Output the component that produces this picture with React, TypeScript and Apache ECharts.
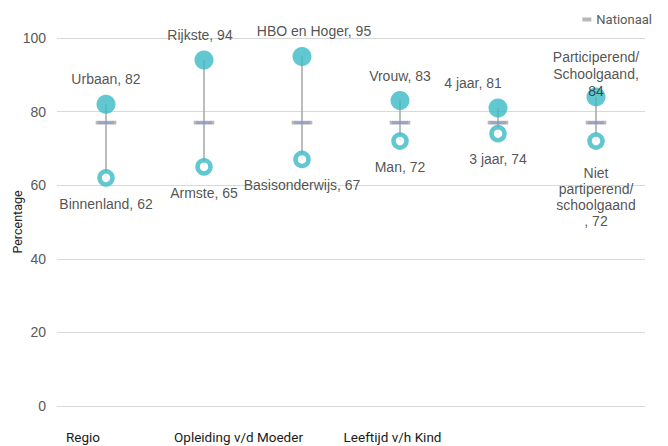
import React, { useEffect, useRef } from "react";
import * as echarts from "echarts";

const categories = ["Regio", "Welvaart", "Opleiding v/d Moeder", "Geslacht", "Leeftijd v/h Kind", "Participatie"];
const highNames = ["Urbaan", "Rijkste", "HBO en Hoger", "Vrouw", "4 jaar", "Participerend/\nSchoolgaand"];
const highValues = [82, 94, 95, 83, 81, 84];
const lowNames = ["Binnenland", "Armste", "Basisonderwijs", "Man", "3 jaar", "Niet\npartiperend/\nschoolgaand\n"];
const lowValues = [62, 65, 67, 72, 74, 72];
const nationalValues = [77, 77, 77, 77, 77, 77];
const yTicks = [0, 20, 40, 60, 80, 100];

const TEAL = "#3ab9c5";
const FONT = "'Liberation Sans', Arial, sans-serif";
const NARROW = "Roboto, 'Liberation Sans', sans-serif";

export default function App() {
  const ref = useRef<HTMLDivElement>(null);
  useEffect(() => {
    if (!ref.current) return;
    const chart = echarts.init(ref.current, null, { renderer: "svg" });
    const catPad: Record<number, number> = { 0: 46, 2: 127, 4: 211 };
    const highOffset: Record<number, number[]> = { 1: [-4, 0], 2: [12, 0], 4: [-25, 0], 5: [0, 19] };
    const lowOffset: Record<number, number[]> = { 5: [0, 6] };
    const option: any = {
      animation: false,
      backgroundColor: "#ffffff",
      grid: { left: 57, right: 23, top: 38, bottom: 40, containLabel: false, outerBoundsMode: "none" },
      legend: {
        data: [{ name: "Nationaal", itemStyle: { color: "#a6a6a6", borderWidth: 0 } }],
        right: 11,
        top: 8,
        icon: "rect",
        itemWidth: 9,
        itemHeight: 4,
        itemGap: 3,
        textStyle: { color: "#595959", fontSize: 13, fontFamily: NARROW },
      },
      xAxis: {
        type: "category",
        data: categories.map((c, i) => ({
          value: c,
          textStyle: { padding: [0, catPad[i] || 0, 0, 0] },
        })),
        axisLine: { show: true, lineStyle: { color: "#d9d9d9", width: 1 } },
        axisTick: { show: false },
        axisLabel: {
          interval: 1,
          margin: 24,
          color: "#1a1a1a",
          fontSize: 13.5,
          fontFamily: NARROW,
        },
      },
      yAxis: {
        type: "value",
        min: yTicks[0],
        max: yTicks[yTicks.length - 1],
        interval: 20,
        name: "Percentage",
        nameLocation: "middle",
        nameRotate: 90,
        nameGap: 33,
        nameMoveOverlap: false,
        nameTextStyle: { color: "#262626", fontSize: 12.5, fontFamily: NARROW },
        axisLine: { show: false },
        axisTick: { show: false },
        axisLabel: { color: "#595959", fontSize: 14, fontFamily: FONT, margin: 11 },
        splitLine: { lineStyle: { color: "#d9d9d9", width: 1 } },
      },
      series: [
        {
          type: "custom",
          name: "range",
          z: 1,
          data: categories.map((_, i) => [i, highValues[i], lowValues[i]]),
          encode: { x: 0, y: [1, 2] },
          renderItem: (params: any, api: any) => {
            const a = api.coord([api.value(0), api.value(1)]);
            const b = api.coord([api.value(0), api.value(2)]);
            return {
              type: "line",
              shape: { x1: a[0], y1: a[1], x2: b[0], y2: b[1] },
              style: { stroke: "#a6a6a6", lineWidth: 1.5 },
            };
          },
          silent: true,
        },
        {
          type: "scatter",
          name: "Nationaal",
          z: 2,
          data: nationalValues,
          symbol: "rect",
          symbolSize: [16, 3],
          itemStyle: { color: "#7d8cbf", borderColor: "#a6a6a6", borderWidth: 2 },
        },
        {
          type: "scatter",
          name: "Hoog",
          z: 3,
          data: highValues.map((v, i) => ({
            value: v,
            label: highOffset[i] ? { offset: highOffset[i] } : undefined,
          })),
          symbol: "circle",
          symbolSize: 19,
          itemStyle: { color: TEAL },
          label: {
            show: true,
            position: "top",
            distance: 7,
            color: "#262626",
            fontSize: 14,
            fontFamily: FONT,
            lineHeight: 17,
            formatter: (p: any) => {
              const n = highNames[p.dataIndex];
              return n + (n.indexOf("\n") >= 0 ? ",\n" : ", ") + p.value;
            },
          },
        },
        {
          type: "scatter",
          name: "Laag",
          z: 3,
          data: lowValues.map((v, i) => ({
            value: v,
            label: lowOffset[i] ? { offset: lowOffset[i] } : undefined,
          })),
          symbol: "circle",
          symbolSize: 13,
          itemStyle: { color: "#ffffff", borderColor: TEAL, borderWidth: 4.5 },
          label: {
            show: true,
            position: "bottom",
            distance: 9,
            color: "#262626",
            fontSize: 14,
            fontFamily: FONT,
            lineHeight: 16,
            formatter: (p: any) => lowNames[p.dataIndex] + ", " + p.value,
          },
        },
      ],
    };
    chart.setOption(option);
    return () => chart.dispose();
  }, []);
  return (
    <div
      ref={ref}
      style={{ position: "fixed", left: 0, top: 0, width: 668, height: 446, background: "#fff" }}
    />
  );
}
